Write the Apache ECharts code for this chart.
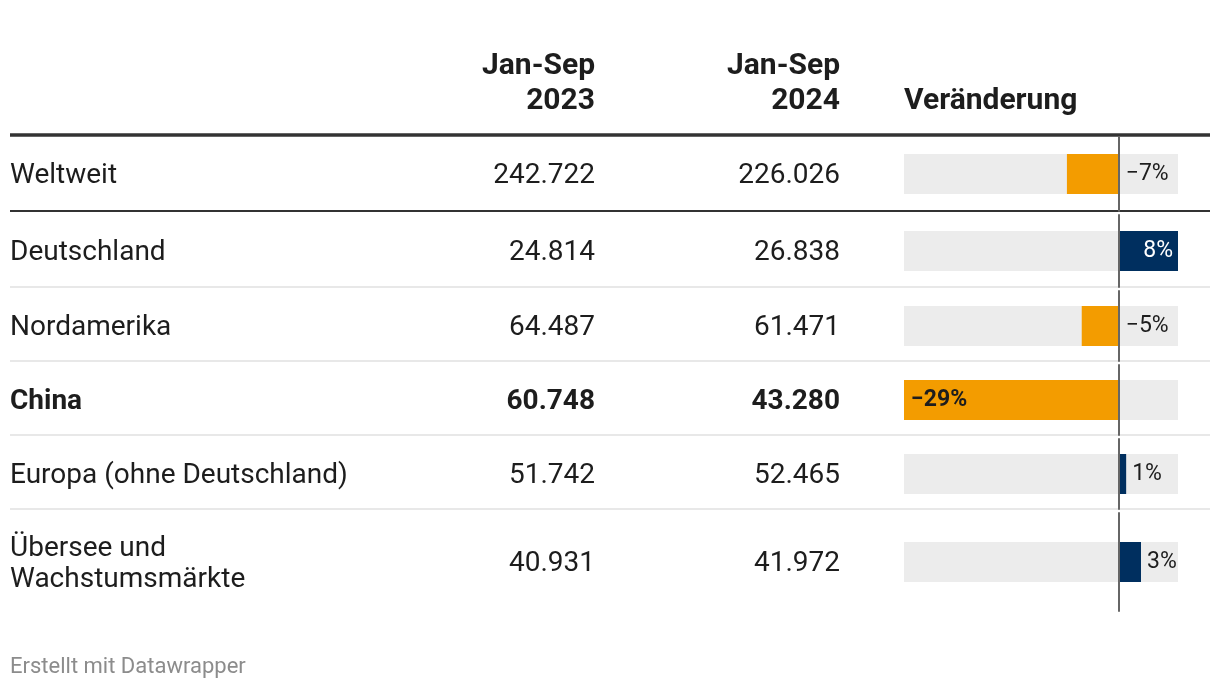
<!DOCTYPE html>
<html>
<head>
<meta charset="utf-8">
<script src="https://cdn.jsdelivr.net/npm/echarts@6/dist/echarts.min.js"></script>
<style>
html,body{margin:0;padding:0;background:#fff;}
#chart{width:1220px;height:690px;}
</style>
</head>
<body>
<div id="chart"></div>
<script>
// ---- data ----
const regions = ['Weltweit', 'Deutschland', 'Nordamerika', 'China', 'Europa (ohne Deutschland)', 'Übersee und\nWachstumsmärkte'];
const sales2023 = [242722, 24814, 64487, 60748, 51742, 40931];
const sales2024 = [226026, 26838, 61471, 43280, 52465, 41972];
const changePct = [-7, 8, -5, -29, 1, 3];
const headers = ['Jan-Sep\n2023', 'Jan-Sep\n2024', 'Veränderung'];
const footer = 'Erstellt mit Datawrapper';
const highlighted = 'China';

// ---- layout ----
const rowEdges = [135, 211, 287, 361, 435, 509, 611];
const FONT = 'Roboto, "Noto Sans", sans-serif';
const TXT = '#1d1d1d';
const ORANGE = '#f39c00';
const NAVY = '#002f5f';
const BODY = 28, HEAD = 30, LBL = 23;
const TEXT_DY = 2;
const colName = 10, col1 = 595, col2 = 840, barLeft = 904, barRight = 1178;

function fmt(n) {
  return String(n).replace(/\B(?=(\d{3})+(?!\d))/g, '.');
}
function pct(v) {
  return (v < 0 ? '\u2212' : '') + Math.abs(v) + '%';
}

const chart = echarts.init(document.getElementById('chart'), null, {renderer: 'canvas'});

const grids = [], xAxes = [], yAxes = [], series = [], graphics = [];

regions.forEach((name, i) => {
  const top = i === 0 ? rowEdges[0] + 2 : rowEdges[i] + 4;
  const bottom = rowEdges[i + 1];
  const cy = (top + bottom) / 2 + TEXT_DY;
  const bold = name === highlighted;
  grids.push({left: barLeft, width: barRight - barLeft, top: top, height: bottom - top, containLabel: false});
  xAxes.push({type: 'value', gridIndex: i, min: -29, max: 8, show: false});
  yAxes.push({
    type: 'category', gridIndex: i, data: [name], z: 5,
    axisLine: {show: true, onZero: true, lineStyle: {color: '#666', width: 2}},
    axisTick: {show: false}, axisLabel: {show: false}, splitLine: {show: false}
  });
  const v = changePct[i];
  let label;
  if (v <= -20) {
    label = {show: true, position: 'insideLeft', distance: 7, color: TXT, fontWeight: 'bold'};
  } else if (v < 0) {
    label = {show: true, position: 'right', distance: 7, color: TXT};
  } else if (v >= 6) {
    label = {show: true, position: 'insideRight', distance: 5, color: '#fff'};
  } else {
    label = {show: true, position: 'right', distance: 6, color: TXT};
  }
  label.fontFamily = FONT;
  label.fontSize = LBL;
  label.formatter = p => pct(p.value);
  series.push({
    type: 'bar', xAxisIndex: i, yAxisIndex: i, barWidth: 40,
    showBackground: true, backgroundStyle: {color: '#ececec'},
    itemStyle: {color: v < 0 ? ORANGE : NAVY},
    label: label,
    silent: true,
    data: [v]
  });
  const fw = bold ? 'bold' : 'normal';
  graphics.push({type: 'text', x: colName, y: cy, style: {text: name, fontFamily: FONT, fontSize: BODY, fontWeight: fw, fill: TXT, align: 'left', verticalAlign: 'middle', lineHeight: 31}});
  graphics.push({type: 'text', x: col1, y: cy, style: {text: fmt(sales2023[i]), fontFamily: FONT, fontSize: BODY, fontWeight: fw, fill: TXT, align: 'right', verticalAlign: 'middle'}});
  graphics.push({type: 'text', x: col2, y: cy, style: {text: fmt(sales2024[i]), fontFamily: FONT, fontSize: BODY, fontWeight: fw, fill: TXT, align: 'right', verticalAlign: 'middle'}});
});

// headers
graphics.push({type: 'text', x: col1, y: 84, style: {text: headers[0], fontFamily: FONT, fontSize: HEAD, fontWeight: 'bold', fill: TXT, align: 'right', verticalAlign: 'middle', lineHeight: 35}});
graphics.push({type: 'text', x: col2, y: 84, style: {text: headers[1], fontFamily: FONT, fontSize: HEAD, fontWeight: 'bold', fill: TXT, align: 'right', verticalAlign: 'middle', lineHeight: 35}});
graphics.push({type: 'text', x: barLeft, y: 101, style: {text: headers[2], fontFamily: FONT, fontSize: HEAD, fontWeight: 'bold', fill: TXT, align: 'left', verticalAlign: 'middle'}});

// separators
rowEdges.slice(0, 6).forEach((y, i) => {
  const color = i <= 1 ? '#333' : '#e8e8e8';
  const w = i === 0 ? 3.5 : 2;
  graphics.push({type: 'line', z: 1, shape: {x1: 10, y1: y, x2: 1210, y2: y}, style: {stroke: color, lineWidth: w}});
});

graphics.push({type: 'text', x: 10, y: 667, style: {text: footer, fontFamily: FONT, fontSize: 22, fill: '#8c8c8c', align: 'left', verticalAlign: 'middle'}});

chart.setOption({
  animation: false,
  backgroundColor: '#fff',
  grid: grids,
  xAxis: xAxes,
  yAxis: yAxes,
  series: series,
  graphic: graphics
});
</script>
</body>
</html>
